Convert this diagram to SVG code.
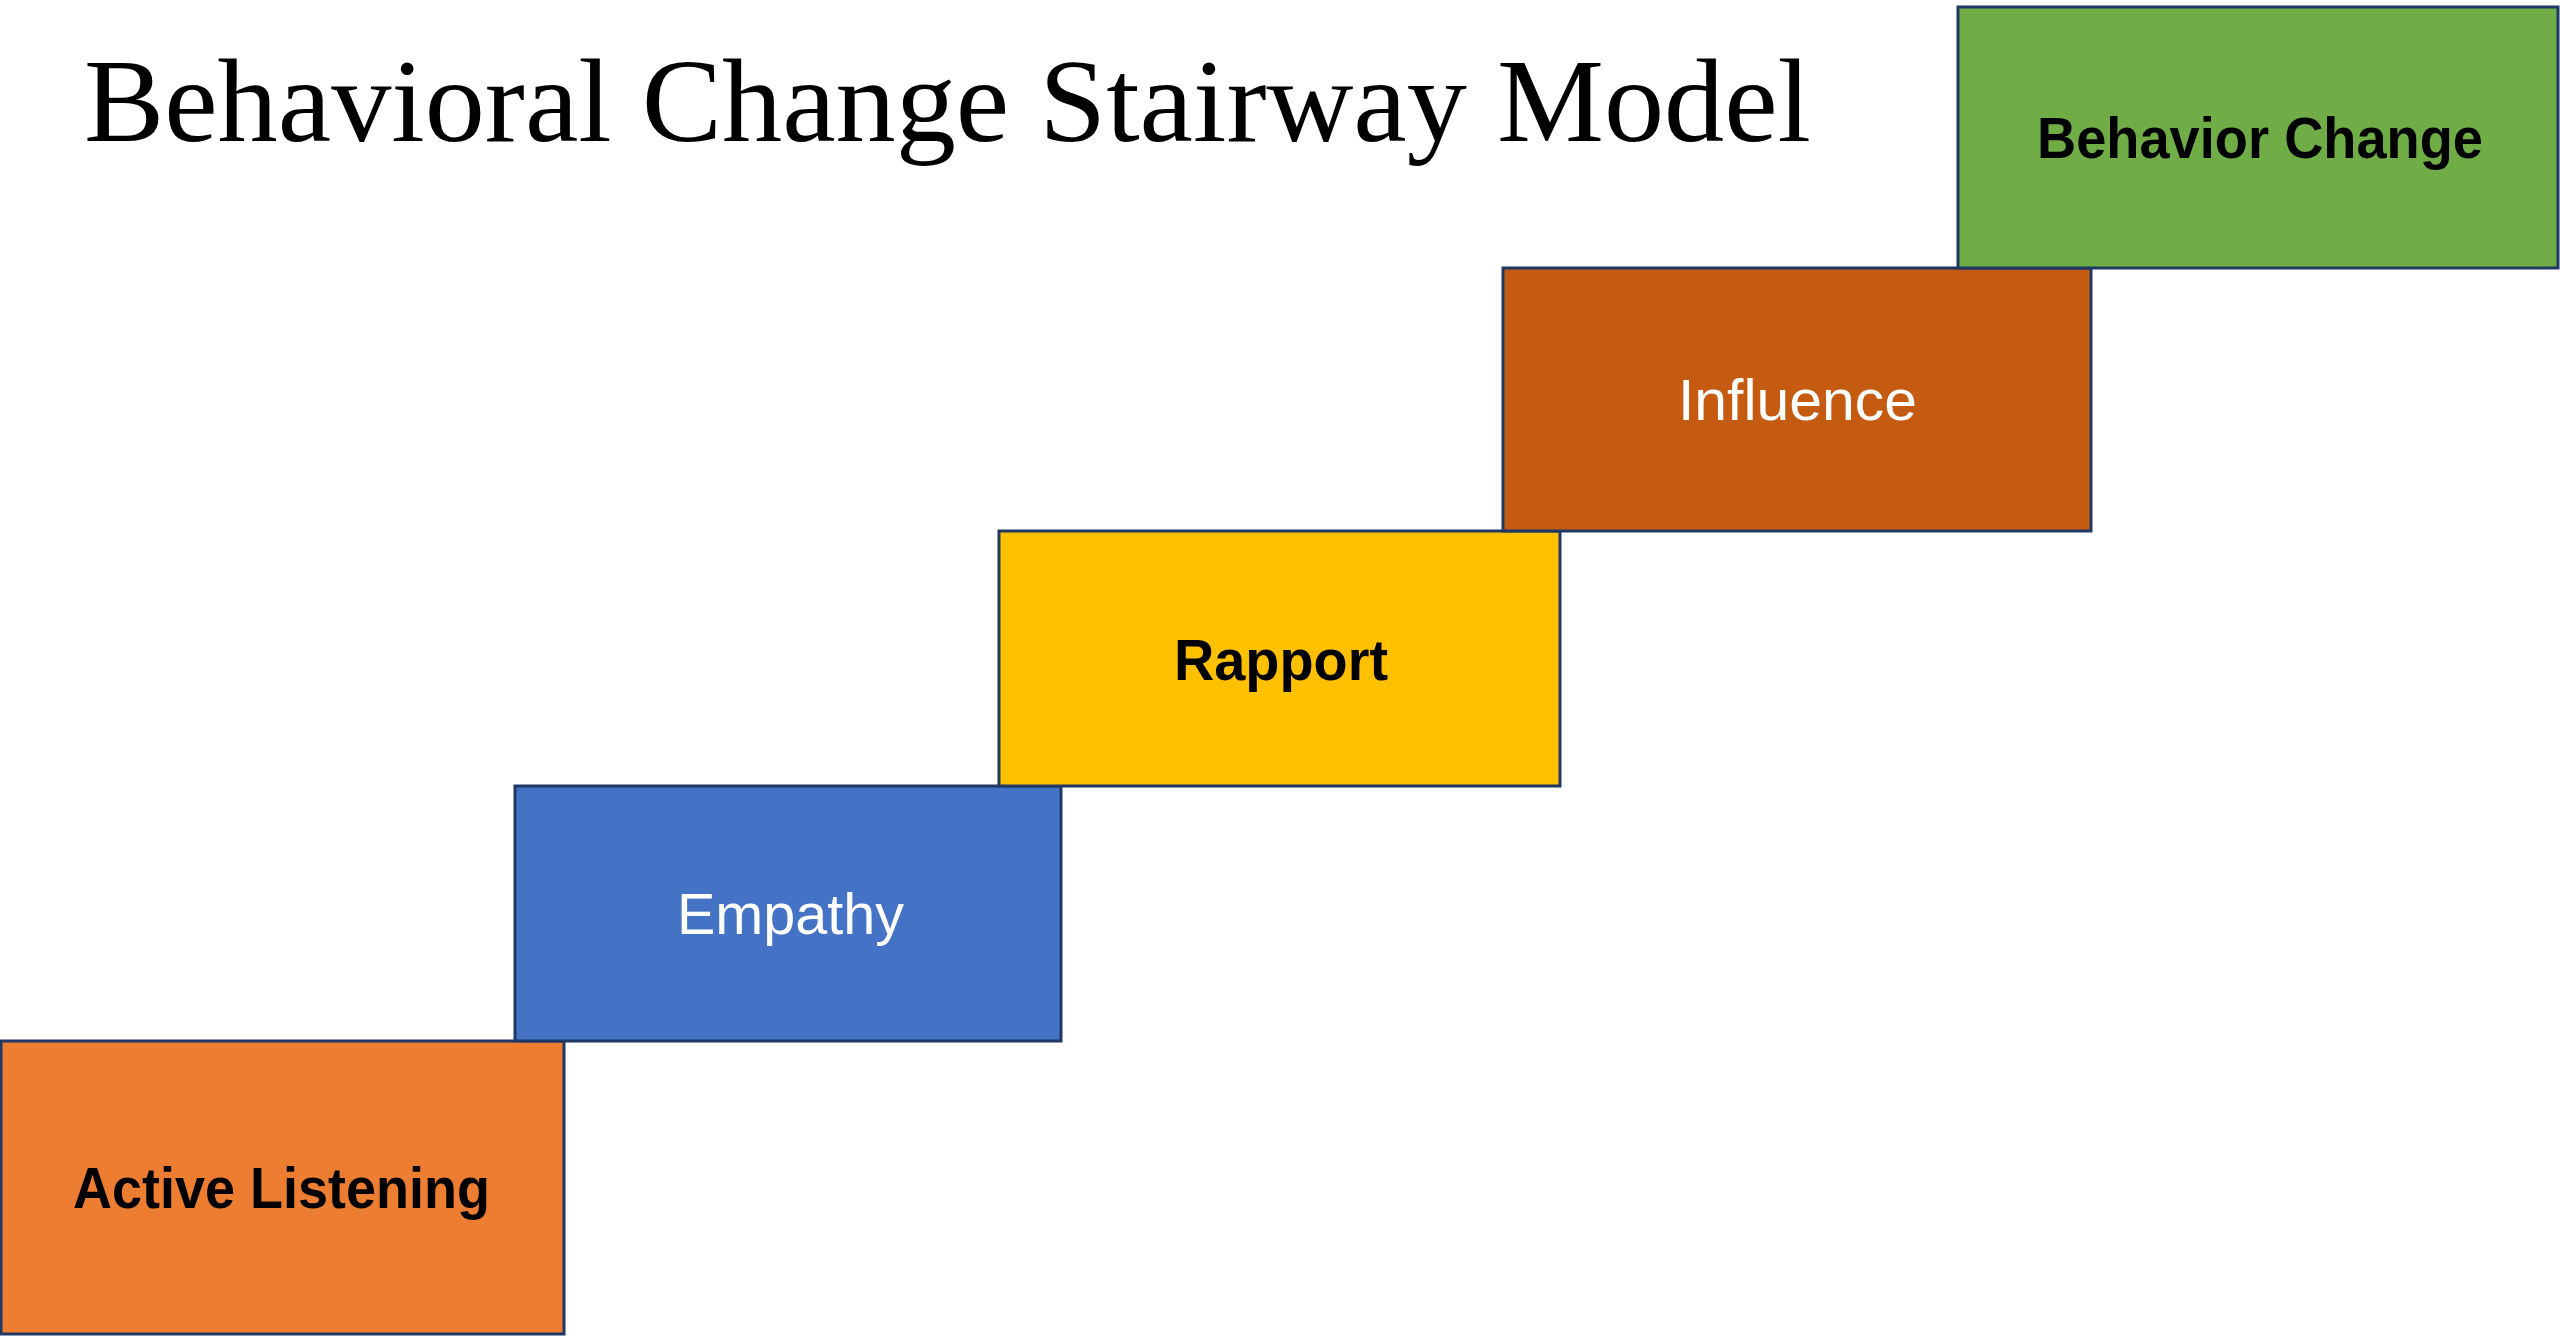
<svg xmlns="http://www.w3.org/2000/svg" width="2560" height="1339" viewBox="0 0 2560 1339">
  <style>
    .step { stroke: #1f3864; stroke-width: 3; }
    .title { font-family: "Liberation Serif", "Times New Roman", serif; font-size: 118px; fill: #000000; }
    .label { font-family: "Liberation Sans", Arial, sans-serif; font-size: 58px; }
    .bold { font-weight: bold; fill: #000000; }
    .light { fill: #ffffff; }
  </style>
  <rect width="2560" height="1339" fill="#ffffff"/>

  <text class="title" x="84" y="141" textLength="1727" lengthAdjust="spacingAndGlyphs">Behavioral Change Stairway Model</text>

  <g id="step-active-listening">
    <rect class="step" x="1" y="1041" width="563" height="293" fill="#ed7d31"/>
    <text class="label bold" x="73" y="1208" textLength="417" lengthAdjust="spacingAndGlyphs">Active Listening</text>
  </g>

  <g id="step-empathy">
    <rect class="step" x="515" y="786" width="546" height="255" fill="#4472c4"/>
    <text class="label light" x="677" y="934" textLength="227" lengthAdjust="spacingAndGlyphs">Empathy</text>
  </g>

  <g id="step-rapport">
    <rect class="step" x="999" y="531" width="561" height="255" fill="#ffc000"/>
    <text class="label bold" x="1174" y="680" textLength="214" lengthAdjust="spacingAndGlyphs">Rapport</text>
  </g>

  <g id="step-influence">
    <rect class="step" x="1503" y="268" width="588" height="263" fill="#c55a11"/>
    <text class="label light" x="1678" y="420" textLength="239" lengthAdjust="spacingAndGlyphs">Influence</text>
  </g>

  <g id="step-behavior-change">
    <rect class="step" x="1958" y="7" width="600" height="261" fill="#70ad47"/>
    <text class="label bold" x="2037" y="158" textLength="446" lengthAdjust="spacingAndGlyphs">Behavior Change</text>
  </g>

  <g id="connectors"></g>
</svg>
